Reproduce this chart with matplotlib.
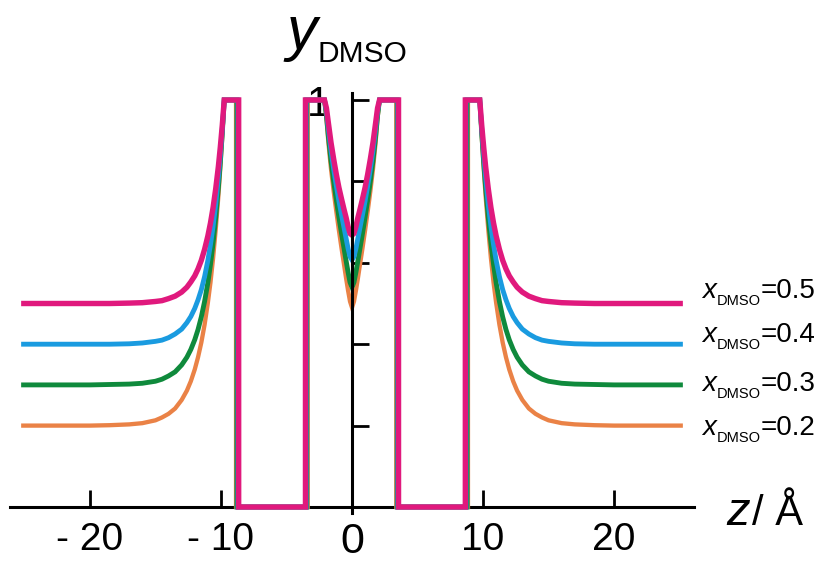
import matplotlib
matplotlib.use("Agg")
import matplotlib.pyplot as plt
from matplotlib.transforms import IdentityTransform
import numpy as np

plt.rcParams["font.family"] = ["Liberation Sans", "DejaVu Sans"]

W, H = 827, 562

# series, top to bottom: x_DMSO = 0.5, 0.4, 0.3, 0.2
fractions = ["0.5", "0.4", "0.3", "0.2"]
colors = ["#e0197d", "#1a9be0", "#0f8a3c", "#ea8246"]
widths = [3.9, 3.5, 3.5, 3.1]

# profile is symmetric about z = 0, values read for z >= 0
z_core = [0.0, 0.15, 0.3, 0.45, 0.6, 0.8, 1.0, 1.2, 1.4, 1.6, 1.8, 1.95, 2.1]
core_05 = [0.668, 0.672, 0.689, 0.711, 0.73, 0.757, 0.785, 0.818, 0.855, 0.895, 0.943, 0.98, 1.0]
core_04 = [0.607, 0.615, 0.635, 0.66, 0.685, 0.718, 0.752, 0.79, 0.83, 0.875, 0.928, 0.972, 1.0]
core_03 = [0.54, 0.552, 0.577, 0.605, 0.634, 0.672, 0.712, 0.755, 0.80, 0.85, 0.91, 0.962, 1.0]
core_02 = [0.49, 0.505, 0.532, 0.562, 0.594, 0.636, 0.68, 0.727, 0.776, 0.83, 0.895, 0.955, 1.0]

# walls (y = 0 between inner and outer wall)
wall_inner = [3.55, 3.5, 3.45, 3.38]
wall_outer = [8.65, 8.7, 8.78, 8.85]

z_outer = [9.75, 9.9, 10.05, 10.2, 10.4, 10.6, 10.8, 11.0, 11.25, 11.5, 11.75, 12.0,
           12.3, 12.6, 13.0, 13.5, 14.0, 14.5, 15.0, 16.0, 17.0, 18.5, 20.0, 22.0, 25.25]
outer_05 = [1.0, 0.938, 0.884, 0.836, 0.782, 0.736, 0.698, 0.666, 0.633, 0.606, 0.585, 0.568,
            0.553, 0.540, 0.528, 0.518, 0.512, 0.507, 0.505, 0.502, 0.501, 0.5, 0.5, 0.5, 0.5]
outer_04 = [1.0, 0.928, 0.864, 0.809, 0.744, 0.690, 0.645, 0.606, 0.566, 0.534, 0.509, 0.488,
            0.468, 0.453, 0.437, 0.425, 0.416, 0.410, 0.407, 0.403, 0.401, 0.4, 0.4, 0.4, 0.4]
outer_03 = [1.0, 0.919, 0.847, 0.784, 0.711, 0.649, 0.596, 0.551, 0.505, 0.467, 0.436, 0.411,
            0.387, 0.368, 0.349, 0.332, 0.322, 0.314, 0.309, 0.304, 0.302, 0.301, 0.3, 0.3, 0.3]
outer_02 = [1.0, 0.911, 0.833, 0.763, 0.682, 0.612, 0.552, 0.502, 0.448, 0.404, 0.368, 0.338,
            0.309, 0.286, 0.263, 0.242, 0.229, 0.220, 0.213, 0.206, 0.203, 0.201, 0.2, 0.2, 0.2]

cores = [core_05, core_04, core_03, core_02]
outers = [outer_05, outer_04, outer_03, outer_02]

x_ticks = [-20, -10, 0, 10, 20]
x_ticklabels = ["- 20", "- 10", "0", "10", "20"]
y_ticks = [0.2, 0.4, 0.6, 0.8, 1.0]
y_ticklabels = ["", "", "", "", "1"]

# label baselines (pixels from top)
label_base = [298, 342, 391, 435]


def full_profile(core, outer, w_in, w_out):
    z = list(z_core) + [w_in, w_in, w_out, w_out] + list(z_outer)
    y = list(core) + [1.0, 0.0, 0.0, 1.0] + list(outer)
    z = np.array(z)
    y = np.array(y)
    return (np.concatenate([-z[::-1], z[1:]]),
            np.concatenate([y[::-1], y[1:]]))


fig = plt.figure(figsize=(W / 100, H / 100), dpi=100)
ax = fig.add_axes([10 / W, (H - 513) / H, 684 / W, 420 / H])

for i in reversed(range(len(fractions))):
    z, y = full_profile(cores[i], outers[i], wall_inner[i], wall_outer[i])
    ax.plot(z, y, color=colors[i], lw=widths[i], zorder=3,
            solid_joinstyle="miter", solid_capstyle="butt")

ax.set_xlim(-26.1, 26.1)
ax.set_ylim(-6 / 407, 1 + 7 / 407)

for s in ["top", "right"]:
    ax.spines[s].set_visible(False)
ax.spines["left"].set_position(("data", 0))
ax.spines["bottom"].set_position(("data", 0))
ax.spines["left"].set_linewidth(2.2)
ax.spines["bottom"].set_linewidth(2.2)
ax.spines["left"].set_zorder(4)
ax.spines["bottom"].set_zorder(2)

ax.set_xticks(x_ticks)
ax.set_xticklabels(x_ticklabels)
ax.set_yticks(y_ticks)
ax.set_yticklabels(y_ticklabels)
ax.tick_params(axis="x", direction="in", length=12, width=2, pad=11, labelsize=28)
ax.tick_params(axis="y", direction="in", length=12, width=2, pad=16, labelsize=30)
for lab in ax.get_xticklabels():
    if lab.get_text() == "0":
        lab.set_fontsize(31)
ax.patch.set_visible(False)

T = IdentityTransform()


def ptext(x, y_top, s, **kw):
    fig.text(x, H - y_top, s, transform=T, **kw)


# axis titles
ptext(286, 49, "y", fontsize=44, style="italic", va="baseline")
ptext(317, 62, "DMSO", fontsize=21.5, va="baseline")
ptext(726, 525, "z", fontsize=34, style="italic", va="baseline")
ptext(752, 525, "/ Å", fontsize=30, va="baseline")

# series labels
for frac, yb in zip(fractions, label_base):
    ptext(702, yb, "x", fontsize=20, style="italic", va="baseline")
    ptext(717, yb + 7, "DMSO", fontsize=10.5, va="baseline")
    ptext(761, yb, "=" + frac, fontsize=20, va="baseline")

fig.savefig("out.png", dpi=100)
